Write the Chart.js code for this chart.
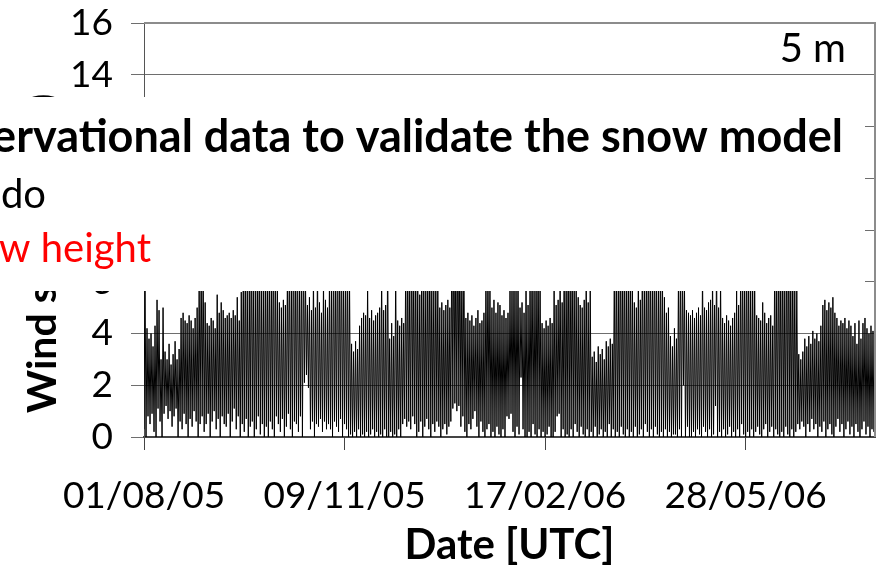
<!DOCTYPE html>
<html>
<head>
<meta charset="utf-8">
<script src="https://cdn.jsdelivr.net/npm/chart.js@4/dist/chart.umd.min.js"></script>
<style>
  html, body { margin: 0; padding: 0; background: #fff; }
  #wrap { width: 877px; height: 573px; }
</style>
</head>
<body>
<div id="wrap"><canvas id="windChart" width="877" height="573"></canvas></div>
<script>
// Daily wind speed at 5 m, 01/08/05 - 31/07/06 (m/s): daily peak and daily trough
const aug05Hi = [6.5, 4.2, 3.8, 4.0, 3.5, 4.3, 5.3, 4.9, 3.0, 5.0, 3.3, 3.0, 3.6, 2.8, 3.2, 3.7, 3.0, 3.4, 4.6, 4.8, 4.5, 4.4, 4.7, 4.5, 4.2, 4.6, 5.0, 6.2, 7.0, 6.8, 5.2];
const sep05Hi = [4.4, 4.3, 4.6, 4.5, 4.2, 5.5, 4.8, 5.2, 4.9, 4.6, 4.7, 4.8, 4.6, 4.9, 4.7, 5.4, 4.5, 5.6, 6.5, 7.2, 6.0, 5.8, 8.0, 6.3, 5.9, 6.6, 7.5, 6.1, 5.9, 6.8];
const oct05Hi = [6.5, 7.0, 6.2, 8.1, 6.8, 5.9, 5.2, 5.0, 5.3, 5.1, 6.4, 7.3, 6.0, 8.5, 6.6, 7.8, 5.9, 6.9, 7.1, 6.2, 5.1, 5.4, 4.9, 6.3, 5.0, 6.8, 5.2, 4.8, 6.1, 5.3, 5.0];
const nov05Hi = [6.5, 5.8, 7.4, 6.2, 8.3, 6.9, 7.7, 6.1, 6.6, 7.0, 5.9, 3.6, 3.3, 3.7, 3.4, 4.3, 4.6, 4.8, 4.7, 6.0, 4.6, 4.9, 4.5, 4.7, 4.8, 5.0, 6.4, 4.9, 5.1, 7.2];
const dec05Hi = [3.8, 4.4, 3.9, 6.3, 4.5, 4.3, 4.6, 4.4, 6.8, 7.4, 6.1, 8.0, 6.5, 7.1, 6.0, 5.5, 7.0, 6.4, 5.8, 6.9, 7.5, 6.2, 5.9, 6.6, 6.0, 5.0, 5.2, 4.9, 5.1, 5.3, 5.0];
const jan06Hi = [8.2, 9.0, 7.5, 8.8, 7.9, 6.9, 7.3, 4.6, 4.8, 4.5, 4.7, 4.3, 4.6, 4.9, 4.4, 4.5, 4.8, 6.4, 7.0, 6.1, 5.0, 5.3, 4.8, 5.2, 5.1, 4.7, 4.9, 4.6, 4.8, 5.9, 6.2];
const feb06Hi = [7.0, 6.1, 6.6, 5.0, 5.2, 4.8, 6.2, 5.1, 6.5, 7.3, 5.8, 6.9, 7.6, 6.2, 4.4, 4.2, 4.5, 4.3, 4.6, 4.4, 6.0, 5.1, 5.3, 6.6, 5.2, 7.1, 6.4, 7.8];
const mar06Hi = [6.8, 7.5, 6.3, 6.0, 5.4, 5.1, 5.0, 5.3, 6.5, 5.2, 5.8, 3.1, 3.3, 2.9, 3.5, 3.2, 3.4, 3.0, 3.7, 3.5, 3.8, 3.6, 6.4, 7.2, 6.0, 8.1, 6.8, 7.5, 6.3, 6.9, 7.0];
const apr06Hi = [6.2, 5.2, 5.0, 6.5, 5.3, 7.4, 6.2, 6.9, 8.0, 7.1, 6.4, 7.7, 6.8, 6.0, 7.3, 6.5, 5.4, 4.8, 5.0, 3.9, 3.5, 4.2, 3.8, 6.3, 7.0, 6.6, 5.9, 4.9, 4.8, 4.7];
const may06Hi = [4.9, 4.6, 4.8, 5.0, 4.7, 6.6, 5.0, 4.9, 5.2, 5.3, 6.4, 5.1, 7.0, 5.0, 6.2, 4.6, 4.4, 4.7, 4.5, 4.3, 4.6, 4.8, 5.8, 5.1, 6.5, 7.1, 6.2, 7.4, 6.8, 6.0, 6.5];
const jun06Hi = [6.1, 4.7, 4.6, 4.5, 5.2, 4.8, 4.4, 4.6, 4.7, 4.3, 7.2, 6.3, 8.0, 6.8, 7.5, 6.0, 7.9, 8.4, 6.6, 7.1, 6.2, 5.9, 3.2, 3.0, 3.3, 3.8, 3.5, 3.9, 3.6, 4.1];
const jul06Hi = [3.8, 4.0, 3.7, 4.3, 5.1, 5.3, 4.9, 5.2, 5.0, 5.4, 4.8, 4.6, 4.3, 4.5, 4.4, 4.6, 4.2, 4.5, 4.3, 3.9, 4.4, 3.6, 4.5, 3.8, 4.4, 4.6, 4.2, 4.0, 4.3, 4.1, 4.2];

const aug05Lo = [0.3, 0.0, 0.8, 0.5, 0.9, 0.2, 0.0, 1.1, 0.6, 0.0, 0.9, 1.2, 0.7, 1.0, 0.4, 0.8, 1.1, 0.0, 0.6, 0.3, 0.9, 0.5, 0.0, 0.7, 0.4, 1.0, 0.6, 0.0, 0.5, 0.8, 0.2];
const sep05Lo = [0.5, 0.9, 0.0, 0.6, 1.0, 0.3, 0.7, 0.0, 0.8, 0.5, 0.4, 0.9, 0.0, 0.6, 1.1, 0.3, 0.8, 0.0, 0.5, 0.2, 0.7, 0.0, 0.4, 0.6, 0.0, 0.3, 0.8, 0.1, 0.5, 0.0];
const oct05Lo = [0.4, 0.0, 0.6, 0.3, 0.0, 0.8, 0.5, 0.2, 0.7, 0.0, 0.4, 0.9, 0.3, 0.0, 0.6, 0.5, 0.2, 0.8, 0.0, 2.1, 2.4, 1.9, 0.3, 0.6, 0.0, 0.5, 0.4, 0.7, 0.2, 0.6, 0.3];
const nov05Lo = [0.5, 0.3, 0.0, 0.6, 0.4, 0.2, 0.7, 0.0, 0.5, 0.3, 0.0, 0.1, 0.0, 0.2, 0.0, 0.3, 0.0, 0.1, 0.0, 0.2, 0.0, 0.1, 0.3, 0.0, 0.2, 0.0, 0.1, 0.0, 0.3, 0.0];
const dec05Lo = [0.0, 0.2, 0.0, 0.1, 0.0, 0.3, 0.0, 0.5, 0.7, 0.4, 0.6, 0.3, 0.8, 0.5, 0.0, 0.2, 0.6, 0.0, 0.4, 0.7, 0.3, 0.0, 0.5, 0.2, 0.6, 0.4, 0.0, 0.3, 0.5, 0.1, 0.4];
const jan06Lo = [0.6, 1.1, 1.3, 1.0, 1.2, 0.4, 0.8, 0.2, 0.0, 0.5, 0.3, 0.7, 1.0, 0.4, 0.0, 0.6, 0.2, 0.0, 0.3, 0.5, 0.0, 0.2, 0.0, 0.4, 0.1, 0.0, 0.3, 0.0, 0.8, 0.7, 0.9];
const feb06Lo = [0.2, 0.0, 0.4, 0.1, 2.3, 0.3, 0.0, 0.0, 0.2, 0.0, 0.5, 0.1, 0.0, 0.3, 0.0, 0.2, 0.0, 0.1, 0.4, 0.0, 0.0, 0.2, 0.8, 0.9, 0.0, 0.3, 0.0, 0.1];
const mar06Lo = [0.0, 0.3, 0.0, 0.5, 0.2, 0.0, 0.4, 0.1, 0.0, 0.3, 0.0, 0.2, 0.0, 0.4, 0.0, 0.1, 0.3, 0.0, 0.2, 0.0, 0.5, 0.0, 0.3, 0.0, 0.2, 0.0, 0.4, 0.1, 0.0, 0.3, 0.0];
const apr06Lo = [0.2, 0.0, 0.4, 0.0, 0.1, 0.3, 0.0, 0.5, 0.2, 0.0, 0.3, 0.0, 0.4, 0.1, 0.0, 0.2, 0.0, 0.3, 0.0, 0.2, 0.0, 0.1, 0.1, 0.0, 0.3, 0.0, 2.0, 0.0, 0.4, 0.0];
const may06Lo = [0.0, 0.2, 0.0, 0.3, 0.1, 0.0, 0.4, 0.2, 0.0, 0.3, 0.0, 0.1, 1.2, 0.0, 0.2, 0.0, 0.3, 0.0, 0.1, 0.4, 0.0, 0.2, 0.0, 0.3, 0.0, 0.5, 0.1, 0.0, 0.2, 0.0, 0.3];
const jun06Lo = [0.0, 0.2, 0.4, 0.1, 0.0, 0.3, 0.5, 0.0, 0.2, 0.4, 0.0, 0.3, 0.1, 0.0, 0.2, 0.0, 0.4, 0.1, 0.0, 0.3, 0.0, 0.2, 0.5, 0.3, 0.6, 0.4, 0.0, 0.5, 0.2, 0.7];
const jul06Lo = [0.3, 0.5, 0.0, 0.4, 0.2, 0.6, 0.0, 0.3, 0.5, 0.1, 0.0, 0.4, 0.7, 0.2, 0.5, 0.0, 0.3, 0.6, 0.1, 0.4, 0.0, 0.5, 0.2, 0.0, 0.3, 0.6, 0.1, 0.4, 0.0, 0.3, 0.2];

// x axis runs in days since 01/08/05
const xTickDays = [0, 100, 200, 300];
const yTickValues = [0, 2, 4, 6, 8, 10, 12, 14, 16];
const startDate = Date.UTC(2005, 7, 1);

const dailyPeaks = [].concat(aug05Hi, sep05Hi, oct05Hi, nov05Hi, dec05Hi, jan06Hi,
  feb06Hi, mar06Hi, apr06Hi, may06Hi, jun06Hi, jul06Hi);
const dailyTroughs = [].concat(aug05Lo, sep05Lo, oct05Lo, nov05Lo, dec05Lo, jan06Lo,
  feb06Lo, mar06Lo, apr06Lo, may06Lo, jun06Lo, jul06Lo);

const windPoints = [];
dailyTroughs.forEach((lo, day) => {
  windPoints.push({ x: day, y: lo });
  windPoints.push({ x: day + 0.5, y: dailyPeaks[day] });
});

function formatDay(day) {
  const d = new Date(startDate + day * 86400000);
  const dd = String(d.getUTCDate()).padStart(2, '0');
  const mm = String(d.getUTCMonth() + 1).padStart(2, '0');
  const yy = String(d.getUTCFullYear()).slice(2);
  return dd + '/' + mm + '/' + yy;
}

// y title, height tag, frame and the slide text box laid over the chart
const overlayPlugin = {
  id: 'overlay',
  afterDraw(chart) {
    const ctx = chart.ctx;
    const area = chart.chartArea;
    ctx.save();

    ctx.strokeStyle = '#8c8c8c';
    ctx.lineWidth = 2;
    ctx.beginPath();
    ctx.moveTo(area.left, area.top);
    ctx.lineTo(area.right, area.top);
    ctx.lineTo(area.right, area.bottom);
    ctx.stroke();

    ctx.fillStyle = '#000';
    ctx.font = '40px Lato';
    ctx.textAlign = 'right';
    ctx.textBaseline = 'alphabetic';
    ctx.fillText('5 m', 846, 62);

    ctx.save();
    ctx.translate(56, 413);
    ctx.rotate(-Math.PI / 2);
    ctx.font = 'bold 41px Lato';
    ctx.textAlign = 'left';
    ctx.fillText('Wind speed (m/s)', 0, 0);
    ctx.restore();

    ctx.fillStyle = '#fff';
    ctx.fillRect(0, 97, 865, 194);

    ctx.textAlign = 'right';
    ctx.fillStyle = '#000';
    ctx.font = 'bold 45px Lato';
    ctx.fillText('Observational data to validate the snow model', 843, 152);
    ctx.font = '40px Lato';
    ctx.fillText('Albedo', 46, 208);
    ctx.fillStyle = '#ff0000';
    ctx.fillText('Snow height', 151, 262);
    ctx.restore();
  }
};

new Chart(document.getElementById('windChart'), {
  type: 'line',
  data: {
    datasets: [{
      data: windPoints,
      borderColor: '#000',
      borderWidth: 1,
      pointRadius: 0,
      tension: 0,
      fill: false
    }]
  },
  options: {
    responsive: false,
    animation: false,
    parsing: false,
    layout: { padding: { top: 23, right: 2, left: 0, bottom: 0 } },
    plugins: { legend: { display: false }, tooltip: { enabled: false } },
    scales: {
      x: {
        type: 'linear',
        min: 0,
        max: 364.5,
        z: 1,
        afterBuildTicks: (s) => { s.ticks = xTickDays.map(v => ({ value: v })); },
        afterFit: (s) => { s.height = 136; s.paddingLeft = 0; s.paddingRight = 0; },
        ticks: {
          color: '#000',
          font: { family: 'Lato', size: 37 },
          padding: 24,
          maxRotation: 0,
          callback: (v) => formatDay(v)
        },
        grid: { drawOnChartArea: false, drawTicks: true, tickLength: 13, color: '#444' },
        border: { color: '#444', width: 2 },
        title: {
          display: true,
          text: 'Date [UTC]',
          color: '#000',
          font: { family: 'Lato', size: 42, weight: 'bold' },
          padding: { top: 0, bottom: 2 }
        }
      },
      y: {
        min: 0,
        max: 16,
        z: 1,
        afterBuildTicks: (s) => { s.ticks = yTickValues.map(v => ({ value: v })); },
        afterFit: (s) => { s.width = 144; s.paddingTop = 0; s.paddingBottom = 0; },
        ticks: {
          color: '#000',
          font: { family: 'Lato', size: 37 },
          padding: 18
        },
        grid: { color: '#6e6e6e', lineWidth: 1, tickLength: 13 },
        border: { color: '#555', width: 1 }
      }
    }
  },
  plugins: [overlayPlugin]
});
</script>
</body>
</html>
